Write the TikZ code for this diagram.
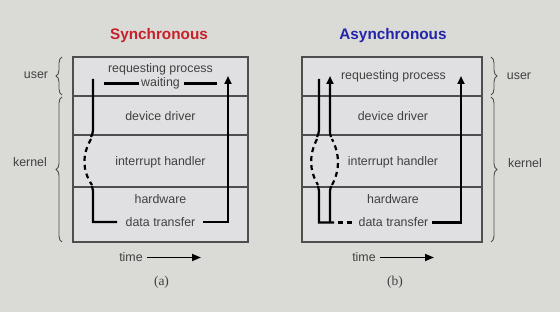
\documentclass[tikz,border=0pt]{standalone}
\usepackage{fontspec}
\setmainfont{Liberation Sans}
\newfontfamily\serifa{Liberation Serif}
\usetikzlibrary{arrows.meta,decorations.pathreplacing}
\definecolor{bgc}{HTML}{DADAD6}
\definecolor{boxc}{HTML}{E0E0E2}
\definecolor{linec}{HTML}{4E4E4E}
\definecolor{txtc}{HTML}{404040}
\definecolor{redt}{HTML}{C8202A}
\definecolor{bluet}{HTML}{2424A8}
\begin{document}
\begin{tikzpicture}[x=1pt,y=-1pt,
  lbl/.style={text=txtc,font=\fontsize{12.4}{14}\selectfont,inner sep=1pt},
  ttl/.style={font=\fontsize{15.3}{18}\selectfont\bfseries},
  rowline/.style={draw=linec,line width=1.1pt},
  thk/.style={line width=2.2pt,black},
  dsh/.style={line width=2.2pt,black,dash pattern=on 5pt off 4pt},
  arr/.style={-{Triangle[length=8pt,width=7pt]}},
  brc/.style={draw=linec,line width=0.9pt,decorate,decoration={brace,amplitude=6pt}},
  captxt/.style={text=txtc,font=\serifa\fontsize{13.5}{15}\selectfont}]
\fill[bgc] (0,0) rectangle (560,312);
\useasboundingbox (0,0) rectangle (560,312);

% titles
\node[ttl,text=redt] (t1) at (159,36) {Synchronous};
\node[ttl,text=bluet] (t2) at (393,36) {Asynchronous};

% boxes
\filldraw[fill=boxc,rowline] (73,57) rectangle (248,242);
\draw[rowline] (73,96) -- (248,96) (73,135) -- (248,135) (73,187) -- (248,187);
\filldraw[fill=boxc,rowline] (302,57) rectangle (482,242);
\draw[rowline] (302,96) -- (482,96) (302,135) -- (482,135) (302,187) -- (482,187);

% left texts
\node[lbl] (a1) at (160.5,69) {requesting process};
\node[lbl] (aw) at (160.5,83.5) {waiting};
\node[lbl] (a2) at (160.5,116) {device driver};
\node[lbl] (a3) at (160.5,162) {interrupt handler};
\node[lbl] (a4) at (160.5,199) {hardware};
\node[lbl] (a5) at (160.5,222) {data transfer};

% right texts
\node[lbl] (b1) at (393.5,76) {requesting process};
\node[lbl] (b2) at (393,116) {device driver};
\node[lbl] (b3) at (393,162) {interrupt handler};
\node[lbl] (b4) at (393,199) {hardware};
\node[lbl] (b5) at (393.5,222) {data transfer};

% synchronous paths
\draw[thk] (104,83.5) -- (139,83.5);
\draw[thk] (184,83.5) -- (217,83.5);
\draw[thk] (93,79) -- (93,130) .. controls (93,133) and (92,135) .. (91,137);
\draw[dsh] (91,139) .. controls (82,155) and (82,170) .. (92,185);
\draw[thk] (92,186) .. controls (93,188) .. (93,191) -- (93,222) -- (117,222);
\draw[thk,arr] (203,222) -- (228,222) -- (228,76);

% asynchronous paths
\draw[thk] (319,79) -- (319,130) .. controls (319,133) and (318,135) .. (317,137);
\draw[dsh] (317,139) .. controls (309,155) and (309,170) .. (318,185);
\draw[thk] (318,186) .. controls (319,188) .. (319,191) -- (319,222.5) -- (334,222.5);
\draw[thk] (330,222.5) -- (330,191) .. controls (330,188) .. (331,186);
\draw[dsh] (332,185) .. controls (340,170) and (340,155) .. (332,139);
\draw[thk,arr] (331,137) .. controls (330,135) and (330,133) .. (330,130) -- (330,76);
\draw[dsh] (338,222.5) -- (355,222.5);
\draw[thk,arr] (432,222.5) -- (461,222.5) -- (461,76);

% braces
\draw[brc] (62,95) -- (62,57);
\draw[brc] (62,242) -- (62,97);
\draw[brc] (491,57) -- (491,95);
\draw[brc] (491,97) -- (491,242);
\node[lbl] (u1) at (36,75) {user};
\node[lbl] (k1) at (30,162) {kernel};
\node[lbl] (u2) at (519,76) {user};
\node[lbl] (k2) at (525,163) {kernel};

% time arrows
\node[lbl] (tm1) at (131,257.5) {time};
\node[lbl] (tm2) at (364,257.5) {time};
\coordinate (te1) at (201,257.5);
\coordinate (te2) at (434,257.5);
\draw[line width=1.8pt,black,-{Triangle[length=9pt,width=7pt]}] (tm1.east) ++(3,0) -- (te1);
\draw[line width=1.8pt,black,-{Triangle[length=9pt,width=7pt]}] (tm2.east) ++(3,0) -- (te2);

% captions
\node[captxt] (ca) at (161.5,282.5) {(a)};
\node[captxt] (cb) at (395,282.5) {(b)};
\end{tikzpicture}
\end{document}
